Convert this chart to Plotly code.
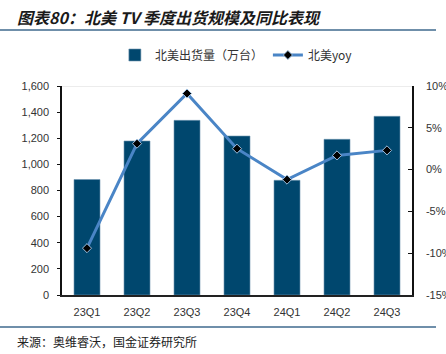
import plotly.graph_objects as go

categories = ["23Q1", "23Q2", "23Q3", "23Q4", "24Q1", "24Q2", "24Q3"]
shipments = [884, 1179, 1337, 1217, 878, 1192, 1368]
yoy = [-9.4, 3.1, 9.1, 2.5, -1.2, 1.7, 2.3]
left_ticks = [0, 200, 400, 600, 800, 1000, 1200, 1400, 1600]
right_ticks = [-15, -10, -5, 0, 5, 10]
right_labels = ["-15%", "-10%", "-5%", "0%", "5%", "10%"]

CJK = "Noto Sans CJK SC"
LAT = "Liberation Sans, Arial"

fig = go.Figure()
fig.add_trace(go.Bar(
    x=categories, y=shipments, name="北美出货量（万台）",
    marker=dict(color="#00476e", line=dict(color="#6f95b0", width=0.6)),
    width=0.52, yaxis="y",
))
fig.add_trace(go.Scatter(
    x=categories, y=yoy, name="北美yoy", mode="lines+markers",
    line=dict(color="#4a85c6", width=3),
    marker=dict(symbol="diamond", size=7, color="black", line=dict(color="#9fc0e0", width=1)),
    yaxis="y2",
))

fig.update_layout(
    width=446, height=354,
    margin=dict(l=62, r=34, t=86, b=59, autoexpand=False),
    paper_bgcolor="white", plot_bgcolor="white",
    showlegend=True,
    legend=dict(orientation="h", x=0.53, xanchor="center", y=1 - 55/354, yanchor="middle",
                yref="container", xref="container",
                font=dict(family=CJK, size=12, color="#333333"),
                itemwidth=30, tracegroupgap=0, bgcolor="rgba(0,0,0,0)"),
    xaxis=dict(
        showline=True, linecolor="#222222", linewidth=2, ticks="",
        tickfont=dict(family=LAT, size=11, color="#333333"),
        showgrid=False, automargin=False, ticklabelstandoff=6,
    ),
    yaxis=dict(
        range=[0, 1600], tickvals=left_ticks, tickformat=",",
        showline=True, linecolor="#111111", linewidth=1.5,
        ticks="outside", ticklen=3, tickcolor="#111111",
        showgrid=False, zeroline=False, automargin=False,
        tickfont=dict(family=LAT, size=11, color="#333333"),
        ticklabelstandoff=6,
    ),
    yaxis2=dict(
        range=[-15, 10], tickvals=right_ticks, ticktext=right_labels,
        overlaying="y", side="right",
        showline=True, linecolor="#111111", linewidth=1.5,
        ticks="inside", ticklen=4, tickcolor="#111111",
        showgrid=False, zeroline=False, automargin=False,
        tickfont=dict(family=LAT, size=11, color="#333333"),
        ticklabelstandoff=10,
    ),
)

# top grid line at 1600
fig.add_shape(type="line", xref="paper", yref="y", x0=0, x1=1, y0=1600, y1=1600,
              line=dict(color="#d9d9d9", width=1))

# title
fig.add_annotation(text="<b><i>图表80：北美 TV 季度出货规模及同比表现</i></b>",
                   xref="paper", yref="paper", x=(15-62)/350, y=1 + (86-17)/209,
                   xanchor="left", yanchor="middle", showarrow=False,
                   font=dict(family=CJK, size=16, color="#1a1a1a"))
# title rule
fig.add_shape(type="line", xref="paper", yref="paper",
              x0=-62/350, x1=(436-62)/350, y0=1 + (86-30)/209, y1=1 + (86-30)/209,
              line=dict(color="#3f6a8e", width=1.5))
# bottom rule
fig.add_shape(type="line", xref="paper", yref="paper",
              x0=-62/350, x1=(436-62)/350, y0=-(327-295)/209, y1=-(327-295)/209,
              line=dict(color="#3f6a8e", width=1.5))
# source
fig.add_annotation(text="来源：奥维睿沃，国金证券研究所",
                   xref="paper", yref="paper", x=(15-62)/350, y=-(341-295)/209,
                   xanchor="left", yanchor="middle", showarrow=False,
                   font=dict(family=CJK, size=12, color="#222222"))

fig.write_html("out.html")
